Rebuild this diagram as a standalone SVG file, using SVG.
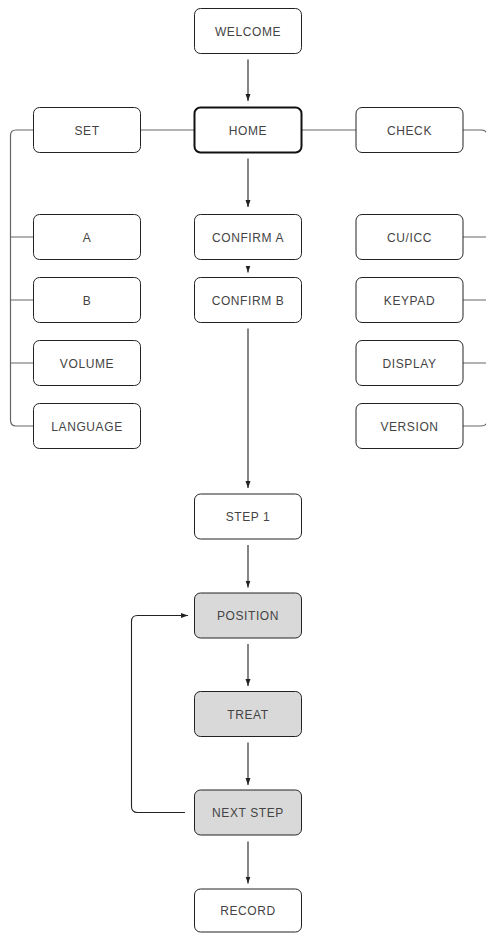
<svg xmlns="http://www.w3.org/2000/svg" width="486" height="933" viewBox="0 0 486 933">
<defs>
<marker id="ah" markerUnits="userSpaceOnUse" markerWidth="7" markerHeight="6" refX="7" refY="3" orient="auto">
<path d="M0,0.5 L7,3 L0,5.5 z" fill="#222"/>
</marker>
<style>
.n rect{fill:#fff;stroke:#222;stroke-width:1}
.n.g rect{fill:#d9d9d9}
.n.h rect{stroke:#111;stroke-width:2}
.n text{font-family:"Liberation Sans",Arial,sans-serif;font-size:12px;fill:#444;text-anchor:middle;letter-spacing:0.6px}
.c{fill:none;stroke:#666;stroke-width:1.2}
.a{fill:none;stroke:#222;stroke-width:1.1;marker-end:url(#ah)}
</style>
</defs>
<rect width="486" height="933" fill="#fff"/>
<g id="connectors">
<path class="c" d="M140.5,130 H194.5"/>
<path class="c" d="M301.5,130 H356"/>
<path class="c" d="M33.5,130 H16 Q10.5,130 10.5,135.5 V420 Q10.5,426 16,426 H33.5"/>
<path class="c" d="M10.5,237 H33.5 M10.5,300 H33.5 M10.5,363 H33.5"/>
<path class="c" d="M463,130 H481 Q487.5,130 487.5,136.5 V419.5 Q487.5,426 481,426 H463"/>
<path class="c" d="M463,237 H487 M463,300 H487 M463,363 H487"/>
<path class="a" d="M248,59.5 V101"/>
<path class="a" d="M248,158.5 V207"/>
<path class="a" d="M248,266 V272.5"/>
<path class="a" d="M248,328.5 V488"/>
<path class="a" d="M248,545 V587.5"/>
<path class="a" d="M248,644 V686"/>
<path class="a" d="M248,742.5 V785"/>
<path class="a" d="M248,841.5 V883.5"/>
<path class="a" d="M185,812.5 H137.5 Q131.5,812.5 131.5,806.5 V621.5 Q131.5,615.5 137.5,615.5 H188"/>
</g>
<g id="welcome" class="n"><rect x="194.5" y="8.5" width="107" height="45" rx="6"/><text x="248" y="35.5">WELCOME</text></g>
<g id="set" class="n"><rect x="33.5" y="107.5" width="107" height="45" rx="6"/><text x="87" y="134.5">SET</text></g>
<g id="home" class="n h"><rect x="194.5" y="107.5" width="107" height="45" rx="6"/><text x="248" y="134.5">HOME</text></g>
<g id="check" class="n"><rect x="356" y="107.5" width="107" height="45" rx="6"/><text x="409.5" y="134.5">CHECK</text></g>
<g id="a" class="n"><rect x="33.5" y="214.5" width="107" height="45" rx="6"/><text x="87" y="241.5">A</text></g>
<g id="confirm-a" class="n"><rect x="194.5" y="214.5" width="107" height="45" rx="6"/><text x="248" y="241.5">CONFIRM A</text></g>
<g id="cu-icc" class="n"><rect x="356" y="214.5" width="107" height="45" rx="6"/><text x="409.5" y="241.5">CU/ICC</text></g>
<g id="b" class="n"><rect x="33.5" y="277.5" width="107" height="45" rx="6"/><text x="87" y="304.5">B</text></g>
<g id="confirm-b" class="n"><rect x="194.5" y="277.5" width="107" height="45" rx="6"/><text x="248" y="304.5">CONFIRM B</text></g>
<g id="keypad" class="n"><rect x="356" y="277.5" width="107" height="45" rx="6"/><text x="409.5" y="304.5">KEYPAD</text></g>
<g id="volume" class="n"><rect x="33.5" y="340.5" width="107" height="45" rx="6"/><text x="87" y="367.5">VOLUME</text></g>
<g id="display" class="n"><rect x="356" y="340.5" width="107" height="45" rx="6"/><text x="409.5" y="367.5">DISPLAY</text></g>
<g id="language" class="n"><rect x="33.5" y="403.5" width="107" height="45" rx="6"/><text x="87" y="430.5">LANGUAGE</text></g>
<g id="version" class="n"><rect x="356" y="403.5" width="107" height="45" rx="6"/><text x="409.5" y="430.5">VERSION</text></g>
<g id="step1" class="n"><rect x="194.5" y="494" width="107" height="45" rx="6"/><text x="248" y="521">STEP 1</text></g>
<g id="position" class="n g"><rect x="194.5" y="593" width="107" height="45" rx="6"/><text x="248" y="620">POSITION</text></g>
<g id="treat" class="n g"><rect x="194.5" y="691.5" width="107" height="45" rx="6"/><text x="248" y="718.5">TREAT</text></g>
<g id="next-step" class="n g"><rect x="194.5" y="790" width="107" height="45" rx="6"/><text x="248" y="817">NEXT STEP</text></g>
<g id="record" class="n"><rect x="194.5" y="889" width="107" height="43" rx="6"/><text x="248" y="915">RECORD</text></g>
</svg>
